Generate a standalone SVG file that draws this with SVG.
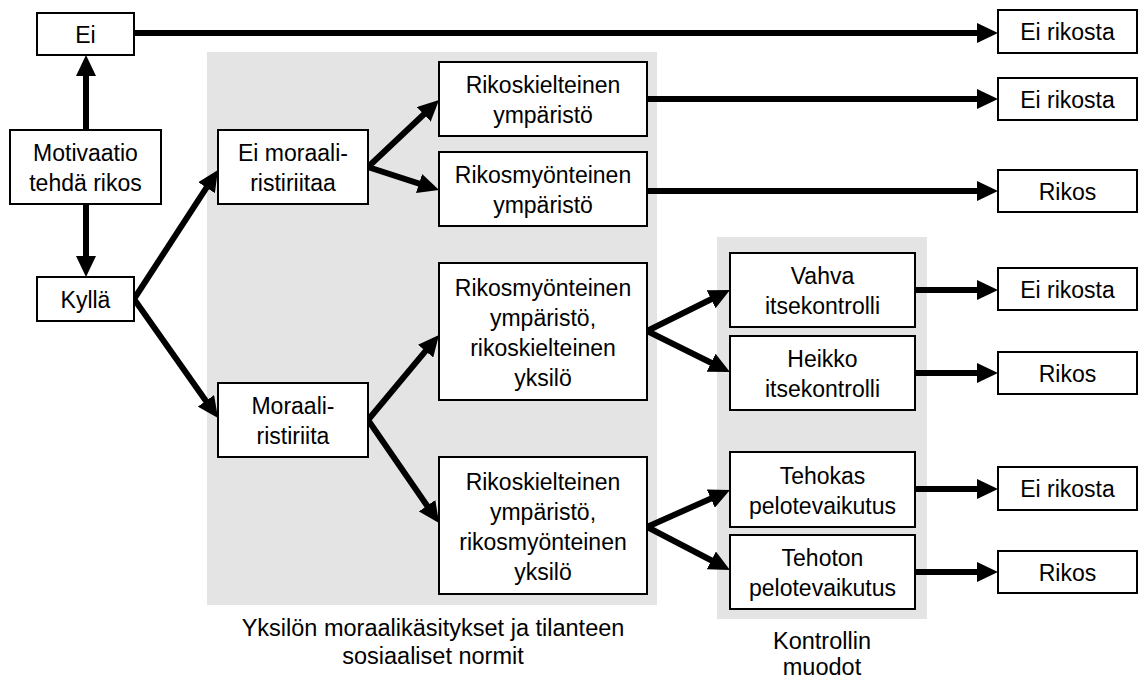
<svg xmlns="http://www.w3.org/2000/svg" width="1139" height="680" viewBox="0 0 1139 680">
<style>
  .panel { fill: #e4e4e4; }
  .box { fill: #ffffff; stroke: #000000; stroke-width: 2; }
  .t { font-family: "Liberation Sans", Arial, sans-serif; font-size: 23px; fill: #000000; text-anchor: middle; }
  .lbl { font-size: 23.5px; }
  .c { fill: none; stroke: #000000; stroke-width: 6; stroke-linejoin: miter; stroke-miterlimit: 10; }
</style>
<defs>
  <marker id="ah" markerUnits="userSpaceOnUse" markerWidth="21" markerHeight="20" refX="9" refY="10" orient="auto-start-reverse" viewBox="0 0 21 20">
    <path d="M0,0 L21,10 L0,20 z" fill="#000000"/>
  </marker>
</defs>
<rect width="1139" height="680" fill="#ffffff"/>

<g id="panels">
  <rect class="panel" x="207" y="52" width="450" height="553"/>
  <rect class="panel" x="717" y="237" width="210" height="382"/>
  <text class="t lbl" x="433" y="636">Yksilön moraalikäsitykset ja tilanteen</text>
  <text class="t lbl" x="433" y="664">sosiaaliset normit</text>
  <text class="t lbl" x="822" y="649">Kontrollin</text>
  <text class="t lbl" x="822" y="675">muodot</text>
</g>

<g id="connectors">
  <path class="c" d="M134,33 L986,33" marker-end="url(#ah)"/>
  <path class="c" d="M86,130 L86,67" marker-end="url(#ah)"/>
  <path class="c" d="M86,204 L86,265" marker-end="url(#ah)"/>
  <path class="c" d="M211.4,180.1 L134,299 L211.1,408.2" marker-start="url(#ah)" marker-end="url(#ah)"/>
  <path class="c" d="M430.3,108.2 L368,167 L427.6,186.3" marker-start="url(#ah)" marker-end="url(#ah)"/>
  <path class="c" d="M647,99 L986,99" marker-end="url(#ah)"/>
  <path class="c" d="M647,191 L986,191" marker-end="url(#ah)"/>
  <path class="c" d="M431.3,344.2 L368,420 L432.2,513.1" marker-start="url(#ah)" marker-end="url(#ah)"/>
  <path class="c" d="M719.2,295.3 L647,331 L719.2,366.7" marker-start="url(#ah)" marker-end="url(#ah)"/>
  <path class="c" d="M719.0,494.9 L647,527 L719.3,564.5" marker-start="url(#ah)" marker-end="url(#ah)"/>
  <path class="c" d="M915,290 L986,290" marker-end="url(#ah)"/>
  <path class="c" d="M915,373 L986,373" marker-end="url(#ah)"/>
  <path class="c" d="M915,489 L986,489" marker-end="url(#ah)"/>
  <path class="c" d="M915,572 L986,572" marker-end="url(#ah)"/>
</g>

<g id="n-ei">
  <rect class="box" x="37" y="13" width="97" height="42"/>
  <text class="t" x="85.5" y="42.5">Ei</text>
</g>
<g id="n-motivaatio">
  <rect class="box" x="10" y="130" width="151" height="74"/>
  <text class="t" x="85.5" y="161">Motivaatio</text>
  <text class="t" x="85.5" y="191">tehdä rikos</text>
</g>
<g id="n-kylla">
  <rect class="box" x="37" y="277" width="97" height="44"/>
  <text class="t" x="85.5" y="307.5">Kyllä</text>
</g>
<g id="n-ei-moraali">
  <rect class="box" x="218" y="130" width="150" height="74"/>
  <text class="t" x="293" y="161">Ei moraali-</text>
  <text class="t" x="293" y="191">ristiriitaa</text>
</g>
<g id="n-moraali">
  <rect class="box" x="218" y="383" width="150" height="74"/>
  <text class="t" x="293" y="414">Moraali-</text>
  <text class="t" x="293" y="444">ristiriita</text>
</g>
<g id="n-rikoskielteinen">
  <rect class="box" x="439" y="62" width="208" height="74"/>
  <text class="t" x="543" y="93">Rikoskielteinen</text>
  <text class="t" x="543" y="123">ympäristö</text>
</g>
<g id="n-rikosmyonteinen">
  <rect class="box" x="439" y="152" width="208" height="74"/>
  <text class="t" x="543" y="183">Rikosmyönteinen</text>
  <text class="t" x="543" y="213">ympäristö</text>
</g>
<g id="n-myont-kielt">
  <rect class="box" x="439" y="263" width="208" height="137"/>
  <text class="t" x="543" y="295.5">Rikosmyönteinen</text>
  <text class="t" x="543" y="325.5">ympäristö,</text>
  <text class="t" x="543" y="355.5">rikoskielteinen</text>
  <text class="t" x="543" y="385.5">yksilö</text>
</g>
<g id="n-kielt-myont">
  <rect class="box" x="439" y="457" width="208" height="137"/>
  <text class="t" x="543" y="489.5">Rikoskielteinen</text>
  <text class="t" x="543" y="519.5">ympäristö,</text>
  <text class="t" x="543" y="549.5">rikosmyönteinen</text>
  <text class="t" x="543" y="579.5">yksilö</text>
</g>
<g id="n-vahva">
  <rect class="box" x="730" y="253" width="185" height="74"/>
  <text class="t" x="822.5" y="284">Vahva</text>
  <text class="t" x="822.5" y="314">itsekontrolli</text>
</g>
<g id="n-heikko">
  <rect class="box" x="730" y="336" width="185" height="74"/>
  <text class="t" x="822.5" y="367">Heikko</text>
  <text class="t" x="822.5" y="397">itsekontrolli</text>
</g>
<g id="n-tehokas">
  <rect class="box" x="730" y="452" width="185" height="75"/>
  <text class="t" x="822.5" y="483.5">Tehokas</text>
  <text class="t" x="822.5" y="513.5">pelotevaikutus</text>
</g>
<g id="n-tehoton">
  <rect class="box" x="730" y="535" width="185" height="74"/>
  <text class="t" x="822.5" y="566">Tehoton</text>
  <text class="t" x="822.5" y="596">pelotevaikutus</text>
</g>
<g id="o1">
  <rect class="box" x="998" y="10" width="139" height="43"/>
  <text class="t" x="1067.5" y="40">Ei rikosta</text>
</g>
<g id="o2">
  <rect class="box" x="998" y="78" width="139" height="42"/>
  <text class="t" x="1067.5" y="107.5">Ei rikosta</text>
</g>
<g id="o3">
  <rect class="box" x="998" y="170" width="139" height="42"/>
  <text class="t" x="1067.5" y="199.5">Rikos</text>
</g>
<g id="o4">
  <rect class="box" x="998" y="268" width="139" height="42"/>
  <text class="t" x="1067.5" y="297.5">Ei rikosta</text>
</g>
<g id="o5">
  <rect class="box" x="998" y="352" width="139" height="42"/>
  <text class="t" x="1067.5" y="381.5">Rikos</text>
</g>
<g id="o6">
  <rect class="box" x="998" y="467" width="139" height="43"/>
  <text class="t" x="1067.5" y="497">Ei rikosta</text>
</g>
<g id="o7">
  <rect class="box" x="998" y="551" width="139" height="42"/>
  <text class="t" x="1067.5" y="580.5">Rikos</text>
</g>
</svg>
